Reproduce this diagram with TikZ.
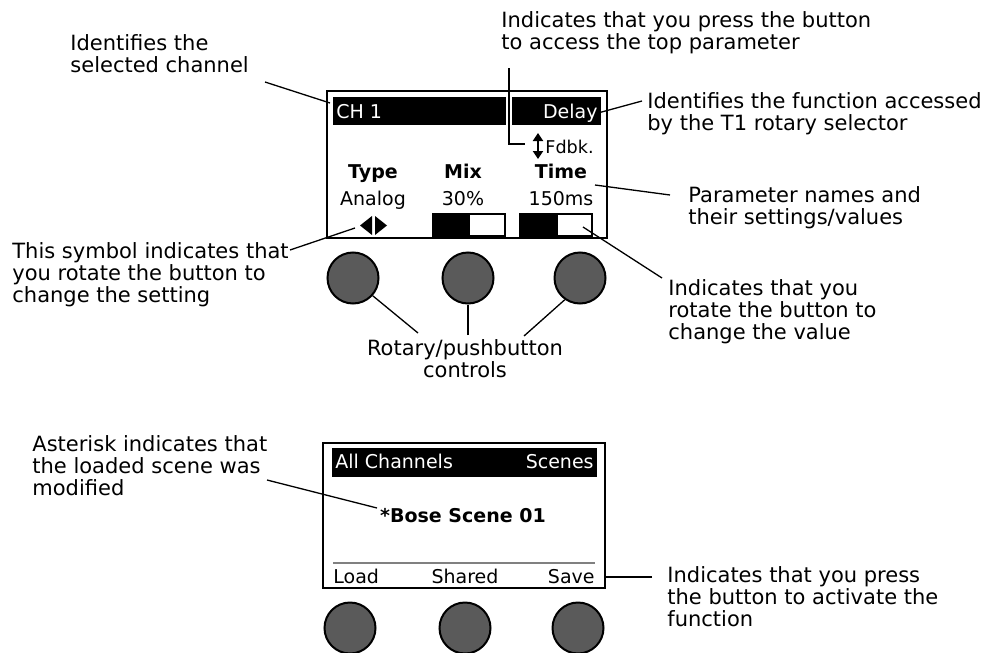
\documentclass[tikz,border=0pt]{standalone}
\usepackage{fontspec}
\setmainfont{DejaVu Sans}
\usetikzlibrary{arrows.meta}
\definecolor{knobgray}{HTML}{5A5A5A}

\begin{document}
\begin{tikzpicture}[x=0.5pt, y=-0.5pt,
    note/.style={anchor=north west, align=left, inner sep=0pt, font=\fontsize{10.5}{11}\selectfont},
    lcd/.style={inner sep=0pt, font=\fontsize{9.5}{10}\selectfont},
    lcdinv/.style={lcd, text=white},
    lcdbold/.style={lcd, font=\fontsize{9.5}{10}\selectfont\bfseries},
    leader/.style={line width=0.65pt},
    panel/.style={line width=1.2pt},
    knob/.style={circle, draw, line width=1pt, fill=knobgray, minimum size=25.5pt, inner sep=0pt}]
    \pgfmathsetmacro{\barwidth}{72}
    \pgfmathsetmacro{\barheight}{22}

    \useasboundingbox (0,0) rectangle (991,653);

    % channel screen
    \draw [panel] (327,91) rectangle (607,238);
    \fill (333,97) rectangle (506,125);
    \fill (512,97) rectangle (601,125);
    \node [lcdinv, anchor=base west] (ch) at (336,118) {CH 1};
    \node [lcdinv, anchor=base east] (delay) at (598,118) {Delay};
    \draw [line width=1.3pt, {Triangle[length=4pt,width=5pt]}-{Triangle[length=4pt,width=5pt]}] (538,133) -- (538,159);
    \node [lcd, anchor=base west, font=\fontsize{8.8}{9}\selectfont] (fdbk) at (545,153) {Fdbk.};

    \foreach \px/\pname/\pval/\id in {373/Type/Analog/a, 463/Mix/30\%/b, 561/Time/150ms/c} {
        \node [lcdbold, anchor=base] (name-\id) at (\px,178) {\pname};
        \node [lcd, anchor=base] (val-\id) at (\px,205) {\pval};
    }
    \fill (372,216) -- (360,225.5) -- (372,235) -- cycle;
    \fill (375,216) -- (387,225.5) -- (375,235) -- cycle;
    \foreach \bx/\fx in {433/470, 520/558} {
        \fill (\bx,214) rectangle (\fx,214+\barheight);
        \draw [line width=1pt] (\bx,214) rectangle ++(\barwidth,\barheight);
    }
    \foreach \kx/\id in {353/1, 468/2, 580/3}
        \node [knob] (k\id) at (\kx,278) {};

    \node [note, anchor=north, align=center] (rotary) at (465,339) {Rotary/pushbutton\\controls};
    \coordinate (r1) at (418,333);
    \coordinate (r2) at (468,335);
    \coordinate (r3) at (524,336);
    \draw [leader] (r1) -- (k1.-42);
    \draw [leader] (r2) -- (k2.south);
    \draw [leader] (r3) -- (k3.-125);

    \node [note] (selid) at (70,34) {Identifies the\\selected channel};
    \coordinate (selid-end) at (265,82);
    \coordinate (ch-edge) at (330,103);
    \draw [leader] (selid-end) -- (ch-edge);

    \node [note] (presstop) at (501,11) {Indicates that you press the button\\to access the top parameter};
    \coordinate (presstop-end) at (509,68);
    \coordinate (fdbk-arrow) at (525,144);
    \draw [leader] (presstop-end) |- (fdbk-arrow);

    \node [note] (funcid) at (647,92) {Identifies the function accessed\\by the T1 rotary selector};
    \coordinate (funcid-end) at (642,101);
    \coordinate (delay-edge) at (598,113);
    \draw [leader] (funcid-end) -- (delay-edge);

    \node [note] (params) at (688,186) {Parameter names and\\their settings/values};
    \coordinate (params-end) at (670,195);
    \coordinate (time-edge) at (595,185);
    \draw [leader] (params-end) -- (time-edge);

    \node [note] (rotval) at (668,279) {Indicates that you\\rotate the button to\\change the value};
    \coordinate (rotval-end) at (662,278);
    \coordinate (bar-edge) at (583,227);
    \draw [leader] (rotval-end) -- (bar-edge);

    \node [note] (rotset) at (12,242) {This symbol indicates that\\you rotate the button to\\change the setting};
    \coordinate (rotset-end) at (290,250);
    \coordinate (sym-edge) at (355,228);
    \draw [leader] (rotset-end) -- (sym-edge);

    % scene screen
    \draw [panel] (323,443) rectangle (605,588);
    \fill (332,448) rectangle (597,477);
    \node [lcdinv, anchor=base west] (allch) at (335,468) {All Channels};
    \node [lcdinv, anchor=base east] (scenes) at (594,468) {Scenes};
    \node [lcdbold, anchor=base] (scene) at (463,522) {*Bose Scene 01};
    \draw [line width=0.8pt, gray] (333,563) -- (595,563);
    \node [lcd, anchor=base west] (load) at (333,583) {Load};
    \node [lcd, anchor=base] (shared) at (465,583) {Shared};
    \node [lcd, anchor=base east] (save) at (595,583) {Save};
    \foreach \kx/\id in {350/4, 465/5, 578/6}
        \node [knob] (k\id) at (\kx,628) {};

    \node [note] (asterisk) at (32,435) {Asterisk indicates that\\the loaded scene was\\modified};
    \coordinate (asterisk-end) at (267,480);
    \coordinate (star-edge) at (377,508);
    \draw [leader] (asterisk-end) -- (star-edge);

    \node [note] (pressfn) at (667,566) {Indicates that you press\\the button to activate the\\function};
    \coordinate (pressfn-end) at (652,577);
    \coordinate (save-edge) at (605,577);
    \draw [leader] (pressfn-end) -- (save-edge);
\end{tikzpicture}
\end{document}
